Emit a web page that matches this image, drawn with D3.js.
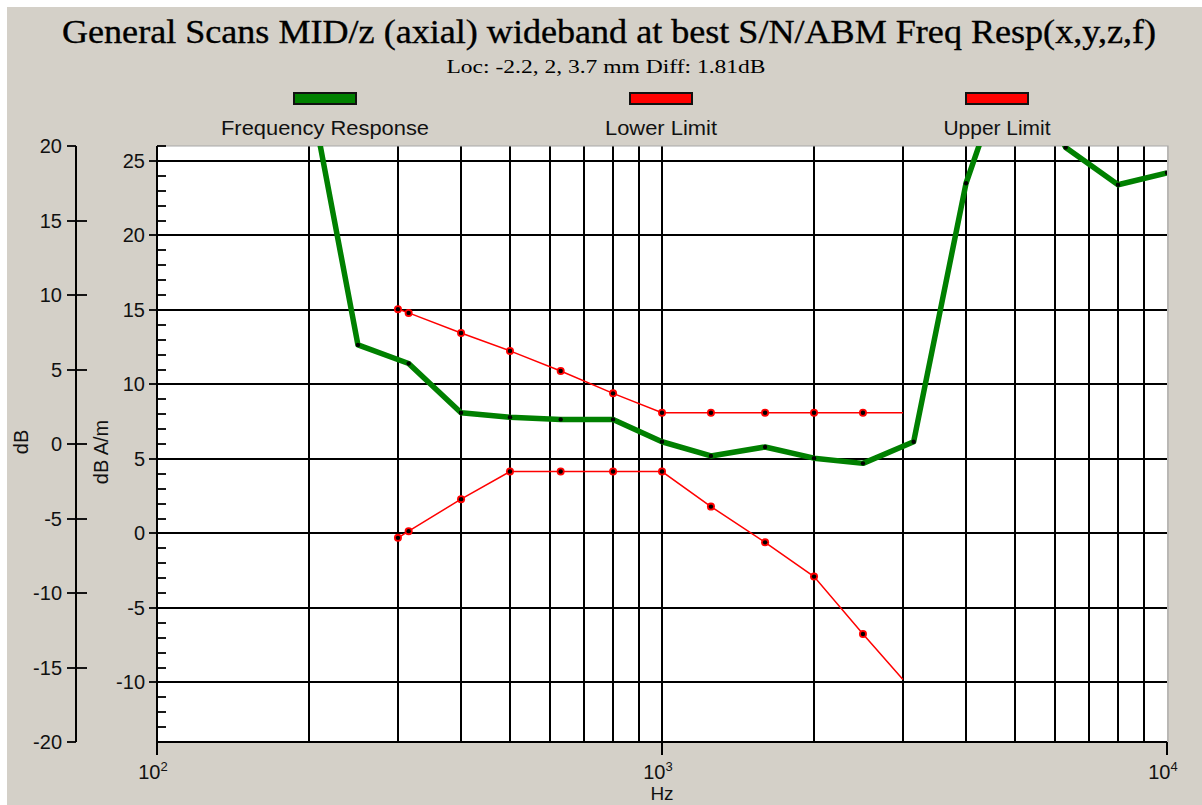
<!DOCTYPE html>
<html><head><meta charset="utf-8">
<script src="https://cdnjs.cloudflare.com/ajax/libs/d3/7.8.5/d3.min.js"></script>
<style>
html,body{margin:0;padding:0;background:#fff;}
svg{display:block;}
</style></head>
<body>
<svg id="c" width="1202" height="805"></svg>
<script>
// ---------- data ----------
const titleText = "General Scans MID/z (axial) wideband at best S/N/ABM Freq Resp(x,y,z,f)";
const subtitleText = "Loc: -2.2, 2, 3.7 mm Diff: 1.81dB";
const seriesNames = ["Frequency Response", "Lower Limit", "Upper Limit"];
const seriesColors = ["#008000", "#ff0000", "#ff0000"];

const respFreqs = [200, 250, 315, 400, 500, 630, 800, 1000, 1250, 1600, 2000, 2500, 3150, 4000, 5000, 6300, 8000, 10000];
const respValues = [30, 12.65, 11.4, 8.1, 7.8, 7.65, 7.65, 6.15, 5.2, 5.8, 5.05, 4.7, 6.15, 23.5, 33, 25.9, 23.4, 24.2];

const limitFreqs = [300, 315, 400, 500, 630, 800, 1000, 1250, 1600, 2000, 2500, 3000];
const upperValues = [15.05, 14.8, 13.45, 12.25, 10.9, 9.4, 8.1, 8.1, 8.1, 8.1, 8.1, 8.1];
const lowerValues = [-0.3, 0.15, 2.3, 4.15, 4.15, 4.15, 4.15, 1.8, -0.6, -2.9, -6.75, -9.8];

const innerTicks = [-10, -5, 0, 5, 10, 15, 20, 25];
const leftTicks = [-20, -15, -10, -5, 0, 5, 10, 15, 20];
const decadeTicks = [100, 1000, 10000];
const decadeExp = ["2", "3", "4"];

// ---------- layout ----------
const svg = d3.select("#c");
const L = 157, R = 1167, T = 146, B = 742;
const x = d3.scaleLog().domain([100, 10000]).range([L, R]);
const y = d3.scaleLinear().domain([-14, 26]).range([B, T]);
const yLeft = d3.scaleLinear().domain([-20, 20]).range([B, T]);
const sans = "'Liberation Sans', Arial, sans-serif";
const serif = "'Liberation Serif', 'Times New Roman', serif";

// background
svg.append("rect").attr("x", 7).attr("y", 7).attr("width", 1195).attr("height", 798).attr("fill", "#d4d0c8");

// title
svg.append("text").attr("x", 609).attr("y", 43).attr("text-anchor", "middle")
  .attr("font-family", serif).attr("font-size", 33).attr("fill", "#000")
  .attr("stroke", "#000").attr("stroke-width", 0.35)
  .attr("textLength", 1094).attr("lengthAdjust", "spacingAndGlyphs").text(titleText);
svg.append("text").attr("x", 606).attr("y", 73).attr("text-anchor", "middle")
  .attr("font-family", serif).attr("font-size", 18).attr("fill", "#000")
  .attr("textLength", 319).attr("lengthAdjust", "spacingAndGlyphs").text(subtitleText);

// legend
const legendCx = [325, 661, 997];
const legendW = [208, 112, 107];
seriesNames.forEach((n, i) => {
  svg.append("rect").attr("x", legendCx[i] - 31).attr("y", 93).attr("width", 62).attr("height", 11)
    .attr("fill", seriesColors[i]).attr("stroke", "#111").attr("stroke-width", 2);
  svg.append("text").attr("x", legendCx[i]).attr("y", 135).attr("text-anchor", "middle")
    .attr("font-family", sans).attr("font-size", 20).attr("fill", "#111")
    .attr("textLength", legendW[i]).attr("lengthAdjust", "spacingAndGlyphs").text(n);
});

// plot area
svg.append("rect").attr("x", L).attr("y", T).attr("width", R - L).attr("height", B - T).attr("fill", "#fff");
svg.append("defs").append("clipPath").attr("id", "clip")
  .append("rect").attr("x", L).attr("y", T).attr("width", R - L).attr("height", B - T);

// grid
const vgrid = x.ticks().filter(f => f > 100 && f < 10000);
svg.append("g").selectAll("line").data(vgrid).join("line")
  .attr("x1", d => Math.round(x(d))).attr("x2", d => Math.round(x(d)))
  .attr("y1", T).attr("y2", B).attr("stroke", "#000").attr("stroke-width", 2);
svg.append("g").selectAll("line").data(innerTicks).join("line")
  .attr("x1", L).attr("x2", R).attr("y1", d => Math.round(y(d))).attr("y2", d => Math.round(y(d)))
  .attr("stroke", "#000").attr("stroke-width", 2);
// frame top/right
svg.append("path").attr("d", `M${L},${T}H${R + 1}V${B}`).attr("fill", "none").attr("stroke", "#a8a8a8").attr("stroke-width", 1.2);

// inner y axis (dB A/m)
const gi = svg.append("g");
gi.append("line").attr("x1", L).attr("x2", L).attr("y1", T).attr("y2", B + 13).attr("stroke", "#000").attr("stroke-width", 2);
const minor = d3.range(-14, 27).filter(v => v % 5 !== 0);
gi.selectAll("line.mn").data(minor).join("line").attr("class", "mn")
  .attr("x1", L).attr("x2", L + 9).attr("y1", d => Math.round(y(d))).attr("y2", d => Math.round(y(d)))
  .attr("stroke", "#000").attr("stroke-width", 1.8);
gi.selectAll("line.mj").data(innerTicks).join("line").attr("class", "mj")
  .attr("x1", L - 8).attr("x2", L + 9).attr("y1", d => Math.round(y(d))).attr("y2", d => Math.round(y(d)))
  .attr("stroke", "#000").attr("stroke-width", 1.8);
gi.selectAll("text").data(innerTicks).join("text")
  .attr("x", L - 12).attr("y", d => y(d) + 7).attr("text-anchor", "end")
  .attr("font-family", sans).attr("font-size", 20).attr("fill", "#111").text(d => d);

// left y axis (dB)
const LX = 76;
const gl = svg.append("g");
gl.append("line").attr("x1", LX).attr("x2", LX).attr("y1", T).attr("y2", B).attr("stroke", "#000").attr("stroke-width", 2);
gl.selectAll("line.t").data(leftTicks).join("line").attr("class", "t")
  .attr("x1", LX - 9).attr("x2", d => (d === 20 || d === -20) ? LX : LX + 11)
  .attr("y1", d => Math.round(yLeft(d))).attr("y2", d => Math.round(yLeft(d)))
  .attr("stroke", "#000").attr("stroke-width", 1.8);
gl.selectAll("text").data(leftTicks).join("text")
  .attr("x", LX - 14).attr("y", d => yLeft(d) + 7).attr("text-anchor", "end")
  .attr("font-family", sans).attr("font-size", 20).attr("fill", "#111").text(d => d);

// x axis
const gx = svg.append("g");
gx.append("line").attr("x1", L).attr("x2", R).attr("y1", B).attr("y2", B).attr("stroke", "#000").attr("stroke-width", 2);
gx.selectAll("line.d").data(decadeTicks).join("line").attr("class", "d")
  .attr("x1", d => Math.round(x(d))).attr("x2", d => Math.round(x(d))).attr("y1", B).attr("y2", B + 13)
  .attr("stroke", "#000").attr("stroke-width", 2);
const xl = gx.selectAll("text").data(decadeTicks).join("text")
  .attr("x", d => x(d) - 4).attr("y", 779).attr("text-anchor", "middle")
  .attr("font-family", sans).attr("font-size", 20).attr("fill", "#111");
xl.append("tspan").text("10");
xl.append("tspan").attr("dy", -8).attr("font-size", 13).text((d, i) => decadeExp[i]);

// axis titles
svg.append("text").attr("x", 662).attr("y", 800).attr("text-anchor", "middle")
  .attr("font-family", sans).attr("font-size", 19).attr("fill", "#111").text("Hz");
svg.append("text").attr("transform", "translate(28,442) rotate(-90)").attr("text-anchor", "middle")
  .attr("font-family", sans).attr("font-size", 20).attr("fill", "#111").text("dB");
svg.append("text").attr("transform", "translate(108,452) rotate(-90)").attr("text-anchor", "middle")
  .attr("font-family", sans).attr("font-size", 20).attr("fill", "#111").text("dB A/m");

// series
const line = d3.line().x(d => x(d[0])).y(d => y(d[1]));
const plot = svg.append("g").attr("clip-path", "url(#clip)");

const upper = limitFreqs.map((f, i) => [f, upperValues[i]]);
const lower = limitFreqs.map((f, i) => [f, lowerValues[i]]);
[lower, upper].forEach((pts, k) => {
  plot.append("path").attr("d", line(pts)).attr("fill", "none")
    .attr("stroke", seriesColors[k + 1]).attr("stroke-width", 1.5);
  const mk = pts.slice(0, -1);
  plot.selectAll(null).data(mk).join("circle").attr("cx", d => x(d[0])).attr("cy", d => y(d[1]))
    .attr("r", 4).attr("fill", "#ff0000");
  plot.selectAll(null).data(mk).join("circle").attr("cx", d => x(d[0])).attr("cy", d => y(d[1]))
    .attr("r", 2.2).attr("fill", "#000");
});

const resp = respFreqs.map((f, i) => [f, respValues[i]]);
plot.append("path").attr("d", line(resp)).attr("fill", "none")
  .attr("stroke", seriesColors[0]).attr("stroke-width", 5.5).attr("stroke-linejoin", "round");
plot.selectAll(null).data(resp).join("circle").attr("cx", d => x(d[0])).attr("cy", d => y(d[1]))
  .attr("r", 2.2).attr("fill", "#000");
</script>
</body></html>
